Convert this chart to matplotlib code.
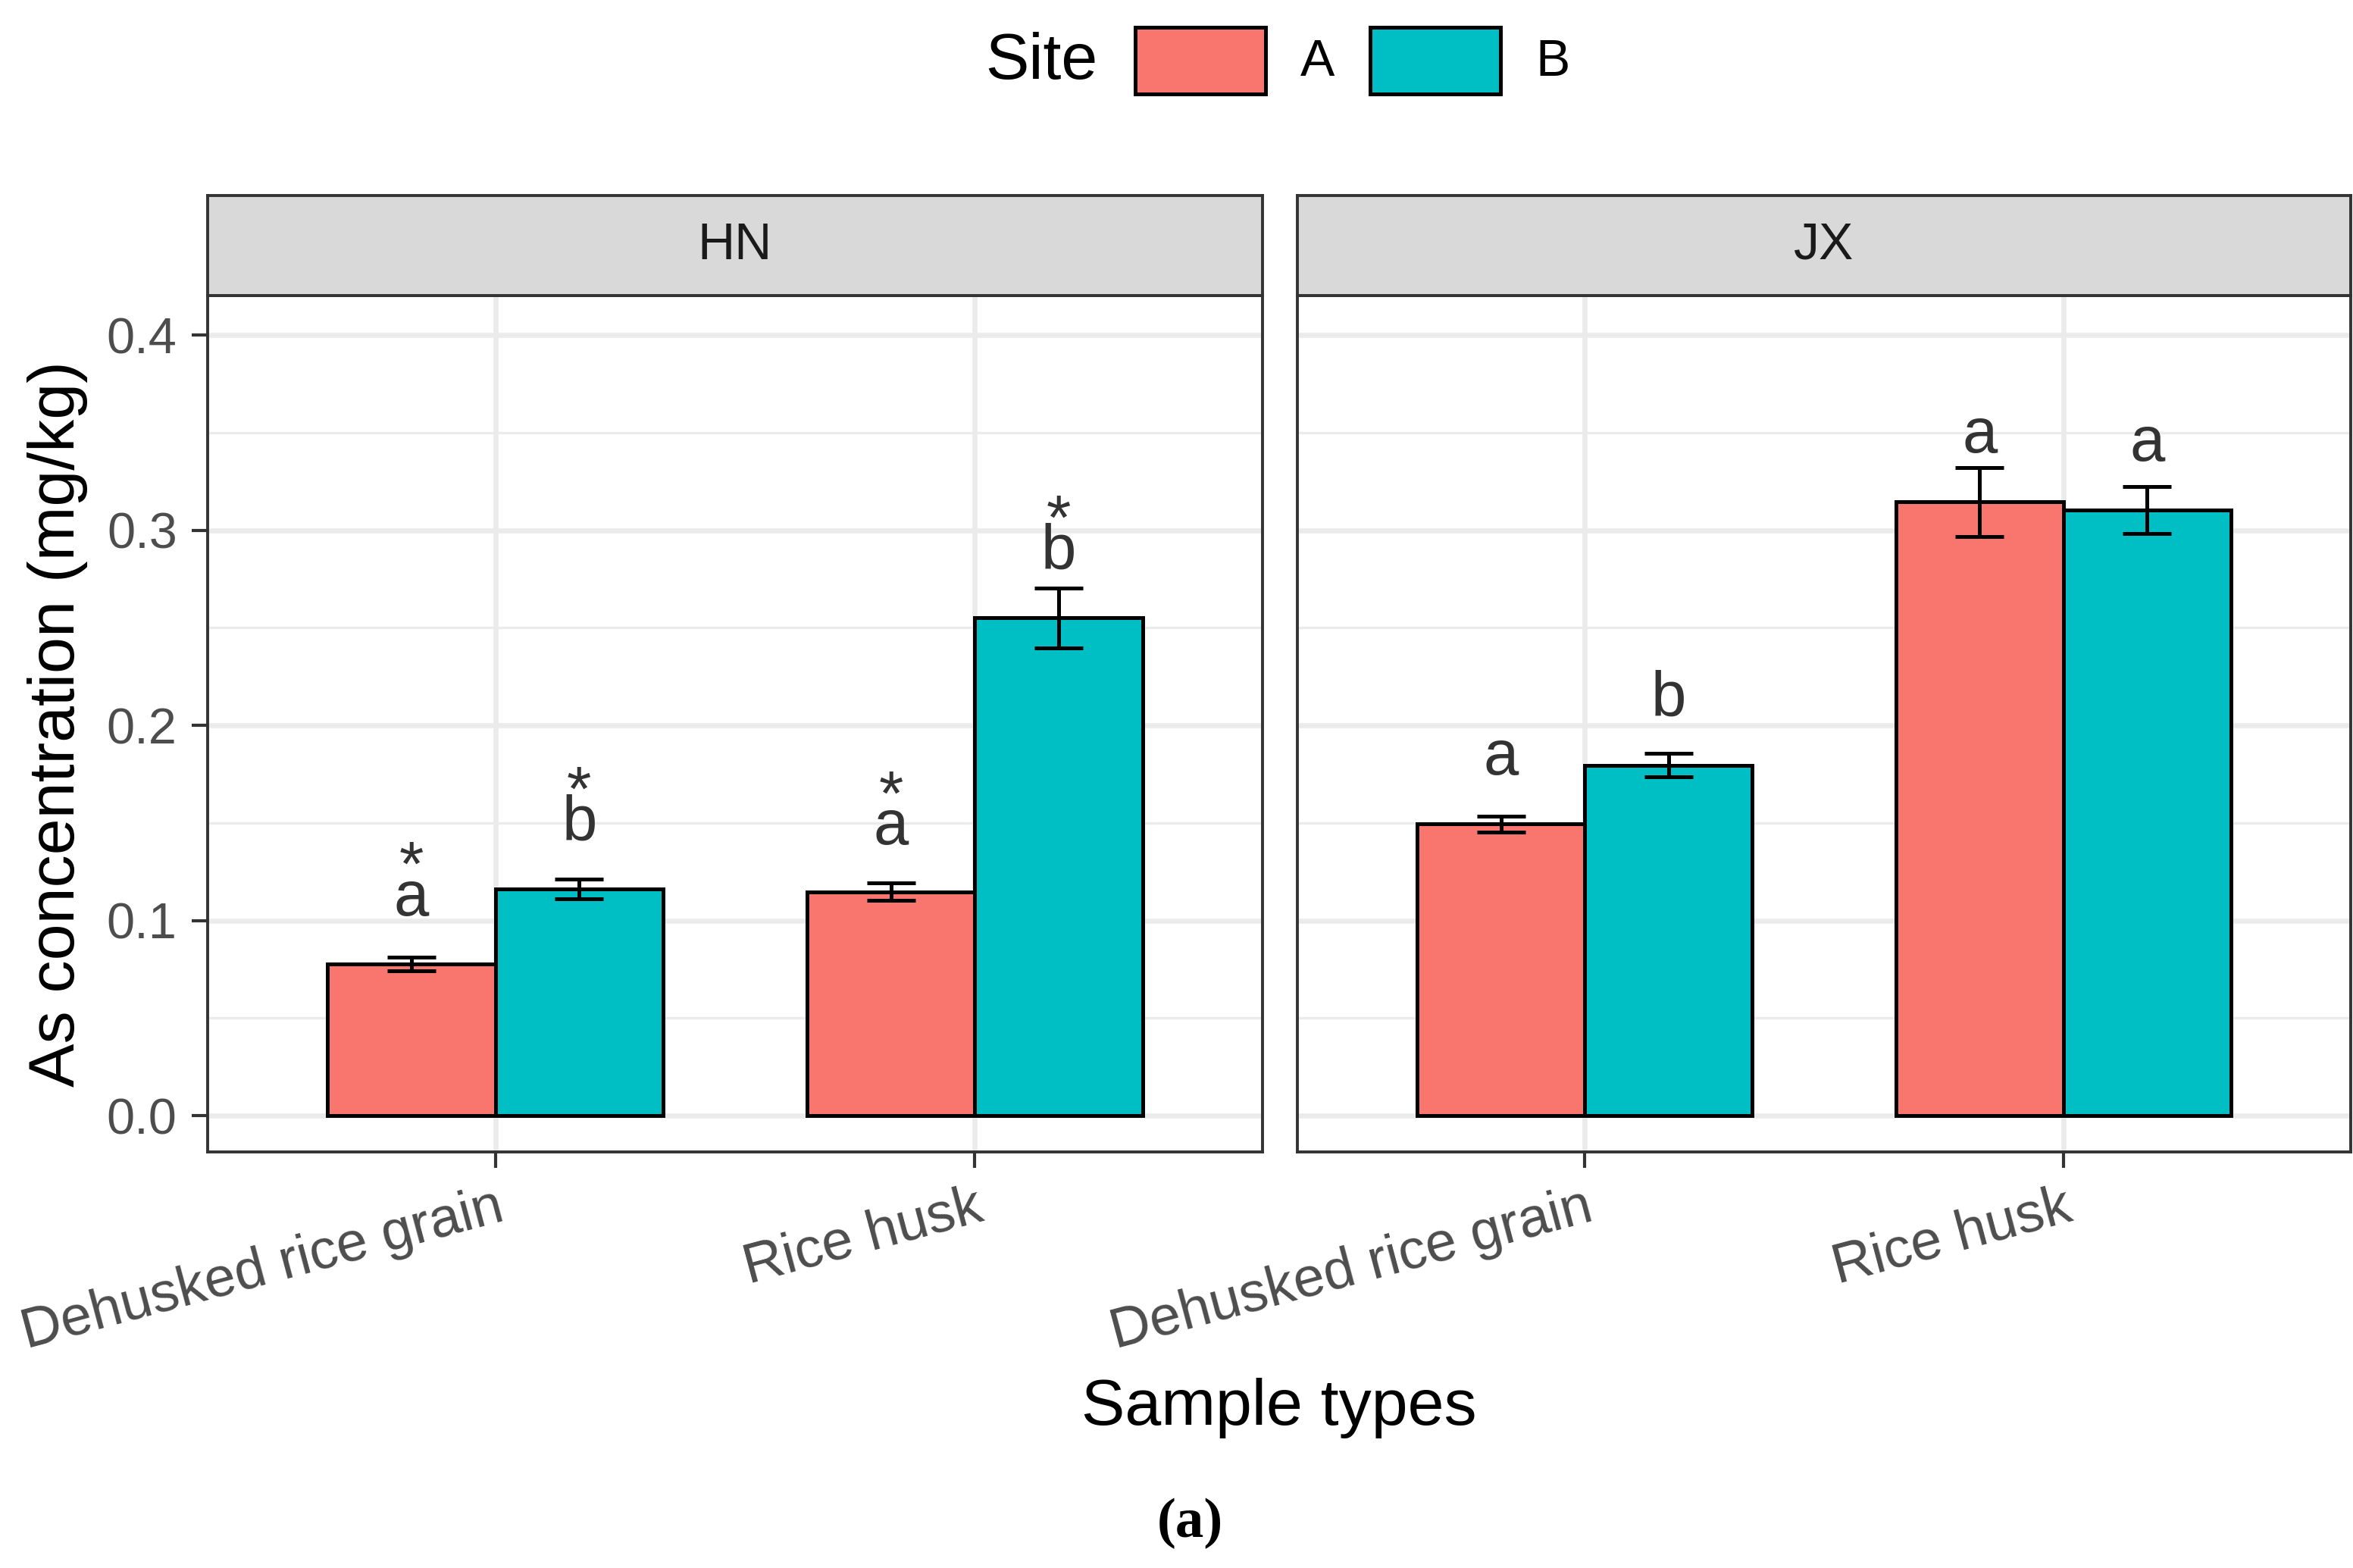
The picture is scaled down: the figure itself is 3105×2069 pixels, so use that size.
import matplotlib
matplotlib.use("Agg")
import matplotlib.pyplot as plt
import numpy as np
from matplotlib.patches import Rectangle

plt.rcParams['font.family'] = ['Liberation Sans', 'DejaVu Sans']

# data
categories = ["Dehusked rice grain", "Rice husk"]
facets = ["HN", "JX"]
sites = ["A", "B"]

hn_a_mean = [0.0778, 0.1146]
hn_a_se = [0.0035, 0.0045]
hn_b_mean = [0.1162, 0.2551]
hn_b_se = [0.0050, 0.0153]

jx_a_mean = [0.1494, 0.3144]
jx_a_se = [0.0040, 0.0177]
jx_b_mean = [0.1796, 0.3102]
jx_b_se = [0.0060, 0.0120]

hn_a_letters = ["a", "a"]
hn_b_letters = ["b", "b"]
jx_a_letters = ["a", "a"]
jx_b_letters = ["b", "a"]

# significance star (site difference) shown above the letter
hn_star = [True, True]
jx_star = [False, False]

# baseline height of the letter labels, in concentration units
hn_a_label_y = [0.1027, 0.1390]
hn_b_label_y = [0.1410, 0.2803]
jx_a_label_y = [0.1749, 0.3400]
jx_b_label_y = [0.2047, 0.3356]

col_a = '#F8766D'
col_b = '#00BFC4'
grey20 = '#333333'
grey30 = '#4D4D4D'

W, H = 1552.5, 1034.5


def fr(x0, y0, x1, y1):
    return [x0 / W, 1 - y1 / H, (x1 - x0) / W, (y1 - y0) / H]


fig = plt.figure(figsize=(15.525, 10.345), dpi=200)

panels = [
    (fr(137, 195, 833, 760), fr(137, 129, 833, 195), facets[0],
     hn_a_mean, hn_a_se, hn_b_mean, hn_b_se, hn_a_letters, hn_b_letters,
     hn_a_label_y, hn_b_label_y, hn_star),
    (fr(856, 195, 1551, 760), fr(856, 129, 1551, 195), facets[1],
     jx_a_mean, jx_a_se, jx_b_mean, jx_b_se, jx_a_letters, jx_b_letters,
     jx_a_label_y, jx_b_label_y, jx_star),
]

width = 0.35
x = np.arange(1, len(categories) + 1)

for i, (rect, srect, name, am, ase, bm, bse, al, bl, aly, bly, star) in enumerate(panels):
    ax = fig.add_axes(rect)
    ax.set_axisbelow(True)
    ax.bar(x - width / 2, am, width, color=col_a, edgecolor='black', linewidth=1.8, zorder=3)
    ax.bar(x + width / 2, bm, width, color=col_b, edgecolor='black', linewidth=1.8, zorder=3)
    ax.errorbar(x - width / 2, am, yerr=ase, fmt='none', ecolor='black',
                elinewidth=1.8, capsize=11.4, capthick=1.8, zorder=4)
    ax.errorbar(x + width / 2, bm, yerr=bse, fmt='none', ecolor='black',
                elinewidth=1.8, capsize=11.4, capthick=1.8, zorder=4)

    for j in range(len(categories)):
        for xp, lab, ly in [(x[j] - width / 2, al[j], aly[j]), (x[j] + width / 2, bl[j], bly[j])]:
            ax.text(xp, ly, lab, ha='center', va='baseline', fontsize=30, color=grey20, zorder=5)
            if star[j]:
                ax.annotate('*', xy=(xp, ly), xytext=(0, 14), textcoords='offset points',
                            ha='center', va='baseline', fontsize=30, color=grey20, zorder=5)

    ax.set_xlim(0.4, 2.6)
    ax.set_ylim(-0.01864, 0.4202)
    ax.set_xticks(x)
    ax.set_xticklabels(categories, rotation=15, ha='right', rotation_mode='anchor')
    ax.set_yticks([0.0, 0.1, 0.2, 0.3, 0.4])
    ax.set_yticks([0.05, 0.15, 0.25, 0.35], minor=True)
    ax.set_yticklabels(["0.0", "0.1", "0.2", "0.3", "0.4"])
    ax.grid(which='major', color='#EBEBEB', linewidth=2.4)
    ax.grid(which='minor', axis='y', color='#EBEBEB', linewidth=1.2)
    ax.tick_params(which='minor', length=0)
    ax.tick_params(which='major', length=7.5, width=1.5, color=grey20,
                   labelcolor=grey30, pad=7)
    ax.tick_params(axis='y', labelsize=24)
    ax.tick_params(axis='x', labelsize=26.5, pad=6)
    if i > 0:
        ax.tick_params(axis='y', left=False, labelleft=False)
    for sp in ax.spines.values():
        sp.set_color(grey20)
        sp.set_linewidth(1.4)

    sax = fig.add_axes(srect)
    sax.set_facecolor('#D9D9D9')
    sax.set_xticks([])
    sax.set_yticks([])
    for sp in sax.spines.values():
        sp.set_color(grey20)
        sp.set_linewidth(1.4)
    sax.text(0.5, 0.5, name, ha='center', va='center', fontsize=24.5,
             color='#1A1A1A', transform=sax.transAxes)

# axis titles
fig.text(38 / W, 1 - 477.5 / H, "As concentration (mg/kg)", rotation=90,
         ha='center', va='center', fontsize=31)
fig.text(844 / W, 1 - 929 / H, "Sample types", ha='center', va='center', fontsize=31)

# legend
fig.text(650 / W, 1 - 41 / H, "Site", ha='left', va='center', fontsize=31)
for xl, col, lab in [(749, col_a, sites[0]), (904, col_b, sites[1])]:
    fig.add_artist(Rectangle((xl / W, 1 - 62 / H), 86 / W, 44 / H, transform=fig.transFigure,
                             facecolor=col, edgecolor='black', linewidth=1.8))
    fig.text((xl + 109) / W, 1 - 41 / H, lab, ha='left', va='center', fontsize=24.5)

fig.text(785 / W, 1 - 1005 / H, "(a)", ha='center', va='center', fontsize=27,
         fontweight='bold', family=['Liberation Serif', 'DejaVu Serif'])

fig.savefig('out.png', dpi=200)
